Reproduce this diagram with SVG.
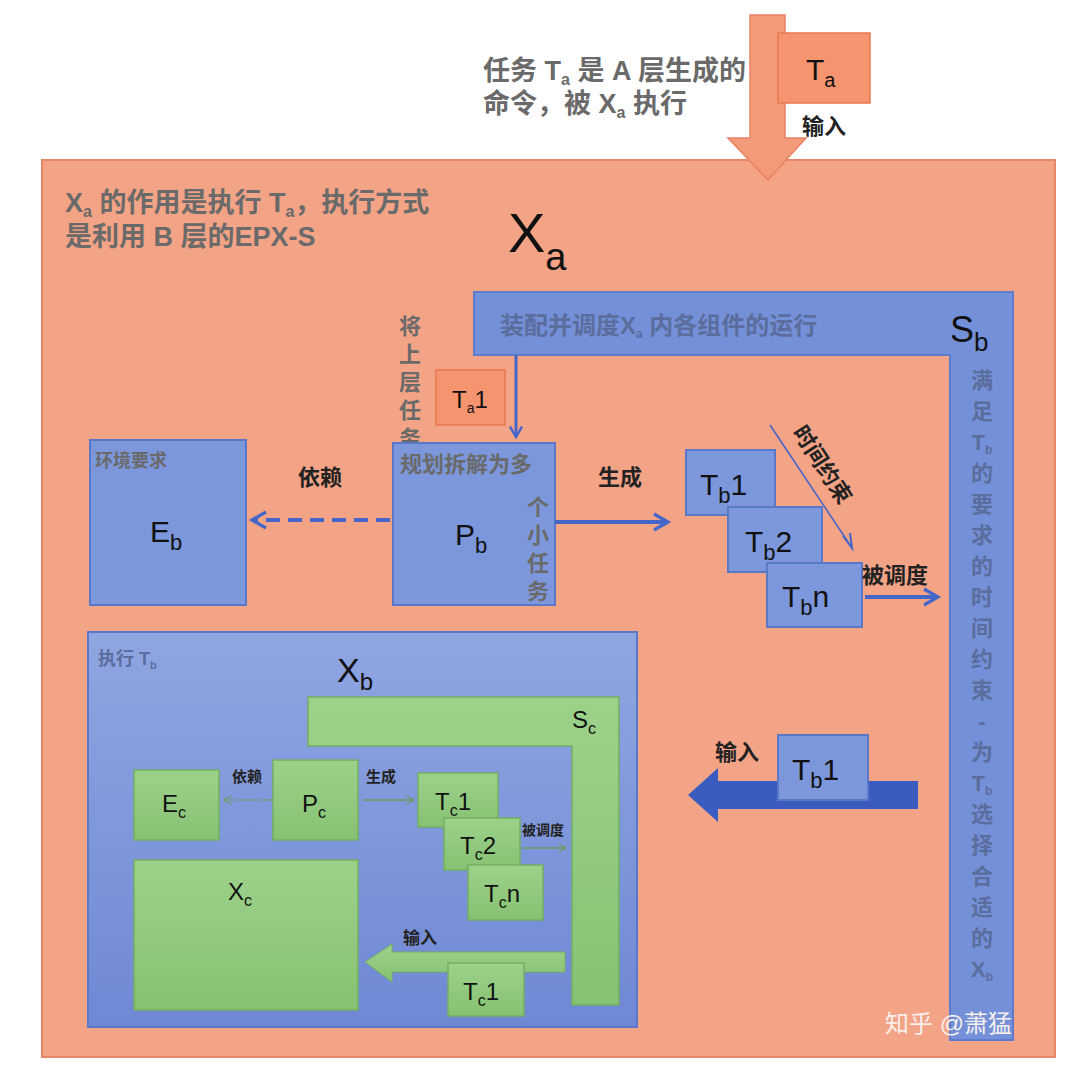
<svg xmlns="http://www.w3.org/2000/svg" width="1080" height="1071" viewBox="0 0 1080 1071">
<defs>
<linearGradient id="gb" x1="0" y1="0" x2="0" y2="1"><stop offset="0" stop-color="#8FA6E2"/><stop offset="1" stop-color="#6F88D4"/></linearGradient>
<linearGradient id="gg" x1="0" y1="0" x2="0" y2="1"><stop offset="0" stop-color="#9CD18A"/><stop offset="1" stop-color="#86C273"/></linearGradient>
<marker id="ab" viewBox="0 0 10 10" refX="8" refY="5" markerWidth="5" markerHeight="5" orient="auto"><path d="M1,1 L8,5 L1,9" fill="none" stroke="#4466C8" stroke-width="1.6"/></marker>
<marker id="ag" viewBox="0 0 10 10" refX="8" refY="5" markerWidth="7" markerHeight="7" orient="auto"><path d="M1,1 L8,5 L1,9" fill="none" stroke="#6E9A63" stroke-width="1.2"/></marker>
</defs>
<style>
text{font-family:"Liberation Sans","Noto Sans CJK SC",sans-serif;}
.cn{font-weight:bold;fill:#222;font-size:22px}
.gr{font-weight:bold;fill:#6A6A6A;font-size:22px}
.big{font-weight:bold;fill:#6A6A6A;font-size:27px}
.bx{fill:#7C97DC;stroke:#5A78C8;stroke-width:2}
.gx{fill:url(#gg);stroke:#73AE62;stroke-width:1.5}
.ox{fill:#F5946F;stroke:#E8784F;stroke-width:1.5}
.lbl{font-size:30px;fill:#111}
.sl{font-size:24px;fill:#111}
</style>
<rect width="1080" height="1071" fill="#fff"/>
<g id="Xa">
<rect x="42" y="160" width="1013" height="897" fill="#F3A386" stroke="#E8866A" stroke-width="2"/>
<text x="65" y="212" class="big">X<tspan font-size="16" dy="5">a</tspan><tspan dy="-5"> 的作用是执行 T</tspan><tspan font-size="16" dy="5">a</tspan><tspan dy="-5">，执行方式</tspan></text>
<text x="65" y="246" class="big">是利用 B 层的EPX-S</text>
<text x="508" y="252" font-size="56" fill="#111">X<tspan font-size="38" dy="18">a</tspan></text>
</g>
<g id="top">
<path d="M750,15 L785,15 L785,138 L806,138 L768,180 L728,138 L750,138 Z" fill="#F39A7B" stroke="#E98262" stroke-width="1.5"/>
<text x="483" y="80" class="big">任务 T<tspan font-size="16" dy="5">a</tspan><tspan dy="-5"> 是 A 层生成的</tspan></text>
<text x="483" y="113" class="big">命令，被 X<tspan font-size="16" dy="5">a</tspan><tspan dy="-5"> 执行</tspan></text>
</g>
<g id="Ta"><rect x="778" y="33" width="92" height="70" class="ox"/><text x="806" y="80" class="lbl">T<tspan font-size="20" dy="7">a</tspan></text>
<text x="802" y="134" class="cn">输入</text></g>
<g id="Sb">
<path d="M474,292 L1013,292 L1013,1040 L950,1040 L950,355 L474,355 Z" fill="#7490D8" stroke="#5E7CCB" stroke-width="2"/>
<text x="500" y="334" class="gr" style="fill:#5B6D9C;font-size:24px">装配并调度X<tspan font-size="12" dy="4">a</tspan><tspan dy="-4"> 内各组件的运行</tspan></text>
<text x="950" y="342" font-size="36" fill="#111">S<tspan font-size="26" dy="9">b</tspan></text>
<g class="gr" style="fill:#5B6D9C" text-anchor="middle">
<text x="982" y="388">满</text><text x="982" y="419">足</text><text x="982" y="450">T<tspan font-size="12" dy="4">b</tspan></text><text x="982" y="481">的</text><text x="982" y="512">要</text><text x="982" y="543">求</text><text x="982" y="574">的</text><text x="982" y="605">时</text><text x="982" y="636">间</text><text x="982" y="667">约</text><text x="982" y="698">束</text><text x="982" y="729">-</text><text x="982" y="760">为</text><text x="982" y="791">T<tspan font-size="12" dy="4">b</tspan></text><text x="982" y="822">选</text><text x="982" y="853">择</text><text x="982" y="884">合</text><text x="982" y="915">适</text><text x="982" y="946">的</text><text x="982" y="977">X<tspan font-size="12" dy="4">b</tspan></text>
</g>
</g>
<g id="Ta1"><rect x="436" y="370" width="69" height="55" class="ox"/><text x="452" y="408" font-size="24" fill="#111">T<tspan font-size="14" dy="5">a</tspan><tspan dy="-5">1</tspan></text></g>
<g class="gr" text-anchor="middle"><text x="410" y="334">将</text><text x="410" y="362">上</text><text x="410" y="390">层</text><text x="410" y="418">任</text><text x="410" y="446">务</text></g>
<g id="Pb"><rect x="393" y="443" width="162" height="162" class="bx"/>
<text x="400" y="472" class="gr">规划拆解为多</text>
<g class="gr" text-anchor="middle"><text x="538" y="515">个</text><text x="538" y="543">小</text><text x="538" y="571">任</text><text x="538" y="599">务</text></g>
<text x="455" y="545" class="lbl">P<tspan font-size="22" dy="8">b</tspan></text></g>
<g id="Eb"><rect x="90" y="440" width="156" height="165" class="bx"/><text x="95" y="467" class="gr" style="font-size:18px">环境要求</text>
<text x="150" y="542" class="lbl">E<tspan font-size="22" dy="8">b</tspan></text></g>
<g id="Tb"><rect x="686" y="450" width="89" height="65" class="bx"/><text x="700" y="495" class="lbl">T<tspan font-size="22" dy="8">b</tspan><tspan dy="-8">1</tspan></text>
<rect x="728" y="507" width="94" height="65" class="bx"/><text x="745" y="552" class="lbl">T<tspan font-size="22" dy="8">b</tspan><tspan dy="-8">2</tspan></text>
<rect x="767" y="563" width="95" height="64" class="bx"/><text x="782" y="607" class="lbl">T<tspan font-size="22" dy="8">b</tspan><tspan dy="-8">n</tspan></text></g>
<g id="Xb"><rect x="88" y="632" width="549" height="395" fill="url(#gb)" stroke="#5A78C8" stroke-width="2"/>
<text x="98" y="665" class="gr" style="fill:#5B6D9C;font-size:18px">执行 T<tspan font-size="11" dy="4">b</tspan></text>
<text x="337" y="682" font-size="34" fill="#111">X<tspan font-size="24" dy="8">b</tspan></text></g>
<g id="Sc"><path d="M308,697 L619,697 L619,1005 L572,1005 L572,746 L308,746 Z" class="gx"/><text x="572" y="728" class="sl">S<tspan font-size="16" dy="6">c</tspan></text></g>
<g id="Ec"><rect x="134" y="770" width="85" height="70" class="gx"/><text x="162" y="812" class="sl">E<tspan font-size="16" dy="6">c</tspan></text></g>
<g id="Pc"><rect x="273" y="760" width="85" height="80" class="gx"/><text x="302" y="812" class="sl">P<tspan font-size="16" dy="6">c</tspan></text></g>
<g id="Tc"><rect x="418" y="773" width="80" height="54" class="gx"/><text x="435" y="810" class="sl">T<tspan font-size="16" dy="6">c</tspan><tspan dy="-6">1</tspan></text>
<rect x="444" y="818" width="76" height="52" class="gx"/><text x="460" y="854" class="sl">T<tspan font-size="16" dy="6">c</tspan><tspan dy="-6">2</tspan></text>
<rect x="468" y="865" width="75" height="55" class="gx"/><text x="484" y="902" class="sl">T<tspan font-size="16" dy="6">c</tspan><tspan dy="-6">n</tspan></text></g>
<g id="Xc"><rect x="134" y="860" width="224" height="150" class="gx"/><text x="228" y="900" class="sl">X<tspan font-size="16" dy="6">c</tspan></text></g>
<g id="connectors">
<line x1="390" y1="520" x2="252" y2="520" stroke="#4466C8" stroke-width="4" stroke-dasharray="14,8" marker-end="url(#ab)"/>
<line x1="555" y1="522" x2="668" y2="522" stroke="#4466C8" stroke-width="4" marker-end="url(#ab)"/>
<line x1="516" y1="355" x2="516" y2="437" stroke="#4466C8" stroke-width="3" marker-end="url(#ab)"/>
<line x1="770" y1="425" x2="850" y2="545" stroke="#4466C8" stroke-width="1.5"/>
<path d="M843,536 L852,548 L850,533" fill="none" stroke="#4466C8" stroke-width="2"/>
<line x1="865" y1="597" x2="938" y2="597" stroke="#4466C8" stroke-width="4" marker-end="url(#ab)"/>
<path d="M918,781 L718,781 L718,768 L688,795 L718,822 L718,809 L918,809 Z" fill="#3A5CC0"/>
<line x1="272" y1="800" x2="224" y2="800" stroke="#6E9A63" stroke-width="1.5" stroke-dasharray="3,2" marker-end="url(#ag)"/>
<line x1="363" y1="800" x2="414" y2="800" stroke="#6E9A63" stroke-width="1.5" marker-end="url(#ag)"/>
<line x1="522" y1="848" x2="566" y2="848" stroke="#6E9A63" stroke-width="1.5" marker-end="url(#ag)"/>
<path d="M565,952 L392,952 L392,944 L365,962 L392,982 L392,972 L565,972 Z" fill="url(#gg)" stroke="#73AE62"/>
</g>
<g id="labels">
<text x="298" y="485" class="cn">依赖</text>
<text x="598" y="485" class="cn">生成</text>
<text x="862" y="583" class="cn">被调度</text>
<text x="715" y="760" class="cn">输入</text>
<text transform="translate(792,432) rotate(57)" class="cn">时间约束</text>
<text x="232" y="782" class="cn" style="font-size:15px">依赖</text>
<text x="366" y="782" class="cn" style="font-size:15px">生成</text>
<text x="522" y="835" class="cn" style="font-size:14px">被调度</text>
<text x="403" y="944" class="cn" style="font-size:17px">输入</text>
</g>
<g id="Tb1in"><rect x="778" y="735" width="90" height="65" class="bx"/><text x="792" y="780" class="lbl">T<tspan font-size="22" dy="8">b</tspan><tspan dy="-8">1</tspan></text></g>
<g id="Tc1in"><rect x="448" y="963" width="76" height="53" class="gx"/><text x="463" y="1000" class="sl">T<tspan font-size="16" dy="6">c</tspan><tspan dy="-6">1</tspan></text></g>
<text x="885" y="1032" font-size="24" fill="#F8F0EC">知乎 @萧猛</text>
</svg>
